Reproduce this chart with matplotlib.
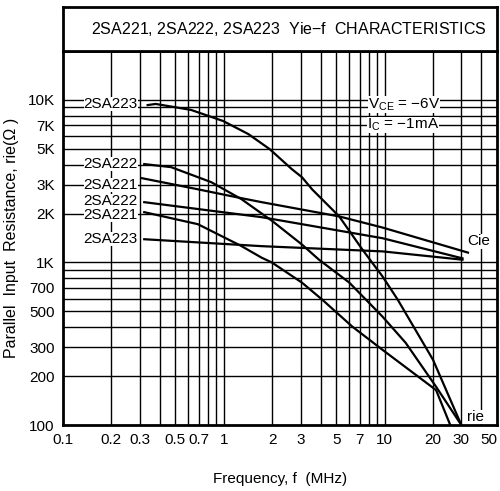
import matplotlib
matplotlib.use("Agg")
import matplotlib.pyplot as plt

plt.rcParams['font.family'] = ['Liberation Sans', 'DejaVu Sans']
plt.rcParams['mathtext.fontset'] = 'custom'
plt.rcParams['mathtext.rm'] = 'Liberation Sans'

# rie curves (parallel input resistance), frequency in MHz, ohms
f_223_rie = [0.336, 0.377, 0.626, 0.99, 1.42, 1.93, 2.65, 3.06, 3.54, 5.22, 7.28, 9.71, 12.06, 20.0, 30.0]
r_223_rie = [9300, 9450, 8680, 7420, 6170, 4980, 3750, 3350, 2820, 1920, 1200, 820, 591, 252, 100]

f_222_rie = [0.32, 0.47, 0.835, 1.29, 1.72, 2.0, 3.06, 3.91, 6.03, 9.71, 13.5, 20.9, 30.0]
r_222_rie = [4030, 3860, 3120, 2450, 2000, 1800, 1290, 1040, 752, 464, 321, 172, 100]

f_221_rie = [0.32, 0.69, 1.29, 1.72, 1.99, 3.06, 4.09, 6.3, 9.71, 20.9, 25.6]
r_221_rie = [2040, 1720, 1260, 1070, 1000, 752, 591, 403, 290, 164, 100]

# Cie curves (drawn on the same scale)
f_221_cie = [0.31, 0.69, 1.11, 1.72, 5.22, 9.71, 33.0]
r_221_cie = [3300, 2820, 2560, 2350, 1920, 1640, 1150]

f_222_cie = [0.32, 1.72, 9.71, 30.5]
r_222_cie = [2350, 1900, 1410, 1060]

f_223_cie = [0.32, 1.72, 9.71, 30.5]
r_223_cie = [1390, 1260, 1170, 1040]

# curve labels on the left
label_text = ['2SA223', '2SA222', '2SA221', '2SA222', '2SA221', '2SA223']
label_y = [9450, 4030, 3000, 2390, 1960, 1400]

x_ticks = [0.1, 0.2, 0.3, 0.5, 0.7, 1, 2, 3, 5, 7, 10, 20, 30, 50]
x_tick_labels = ['0.1', '0.2', '0.3', '0.5', '0.7', '1', '2', '3', '5', '7', '10', '20', '30', '50']
y_ticks = [100, 200, 300, 500, 700, 1000, 2000, 3000, 5000, 7000, 10000]
y_tick_labels = ['100', '200', '300', '500', '700', '1K', '2K', '3K', '5K', '7K', '10K']

x_grid = [0.2, 0.3, 0.4, 0.5, 0.6, 0.7, 0.8, 0.9, 1, 2, 3, 4, 5, 6, 7, 8, 9, 10, 20, 30, 40]
y_grid = [200, 300, 400, 500, 600, 700, 800, 900, 1000, 2000, 3000, 4000, 5000,
          6000, 7000, 8000, 9000, 10000]

fig = plt.figure(figsize=(5.0, 4.91), dpi=100)
ax = fig.add_axes([0.126, 0.1344, 0.868, 0.7617])
ax.set_xscale('log')
ax.set_yscale('log')
ax.set_xlim(0.1, 50)
ax.set_ylim(100, 20000)

for x in x_grid:
    ax.axvline(x, color='black', lw=1.0, zorder=1)
for y in y_grid:
    ax.axhline(y, color='black', lw=1.0, zorder=1)

curves = [(f_223_rie, r_223_rie), (f_222_rie, r_222_rie), (f_221_rie, r_221_rie),
          (f_221_cie, r_221_cie), (f_222_cie, r_222_cie), (f_223_cie, r_223_cie)]
for fx, ry in curves:
    ax.plot(fx, ry, color='black', lw=1.6, zorder=3)

for txt, y in zip(label_text, label_y):
    ax.text(0.292, y, txt, ha='right', va='center', fontsize=11, zorder=4,
            bbox=dict(facecolor='white', edgecolor='none', pad=0.0))

ax.text(32.5, 1350, 'Cie', ha='left', va='center', fontsize=11, zorder=4,
        bbox=dict(facecolor='white', edgecolor='none', pad=0.3))
ax.text(32.5, 112, 'rie', ha='left', va='center', fontsize=11, zorder=4,
        bbox=dict(facecolor='white', edgecolor='none', pad=0.3))

ax.text(13.2, 9400, r'V$_{\rm CE}$ = $-$6V', ha='center', va='center', fontsize=11, zorder=4,
        bbox=dict(facecolor='white', edgecolor='none', pad=0.0))
ax.text(13.0, 7000, r'I$_{\rm C}$ = $-$1mA', ha='center', va='center', fontsize=11, zorder=4,
        bbox=dict(facecolor='white', edgecolor='none', pad=0.0))

ax.minorticks_off()
ax.set_xticks(x_ticks)
ax.set_xticklabels(x_tick_labels)
ax.set_yticks(y_ticks)
ax.set_yticklabels(y_tick_labels)
ax.tick_params(length=0, labelsize=11, pad=6)
ax.get_xticklabels()[-1].set_horizontalalignment('right')
for s in ax.spines.values():
    s.set_linewidth(2.0)

ax.set_xlabel('Frequency, f  (MHz)', fontsize=11, labelpad=18)
ax.set_ylabel('Parallel  Input  Resistance, rie(Ω )', fontsize=11.5, labelpad=6)

# title box above the plot
tax = fig.add_axes([0.126, 0.8961, 0.868, 0.0896])
tax.set_xticks([])
tax.set_yticks([])
for s in tax.spines.values():
    s.set_linewidth(2.0)
tax.text(0.52, 0.5, '2SA221, 2SA222, 2SA223  Yie$-$f  CHARACTERISTICS',
         ha='center', va='center', fontsize=11.5)

fig.savefig('out.png', dpi=100)
